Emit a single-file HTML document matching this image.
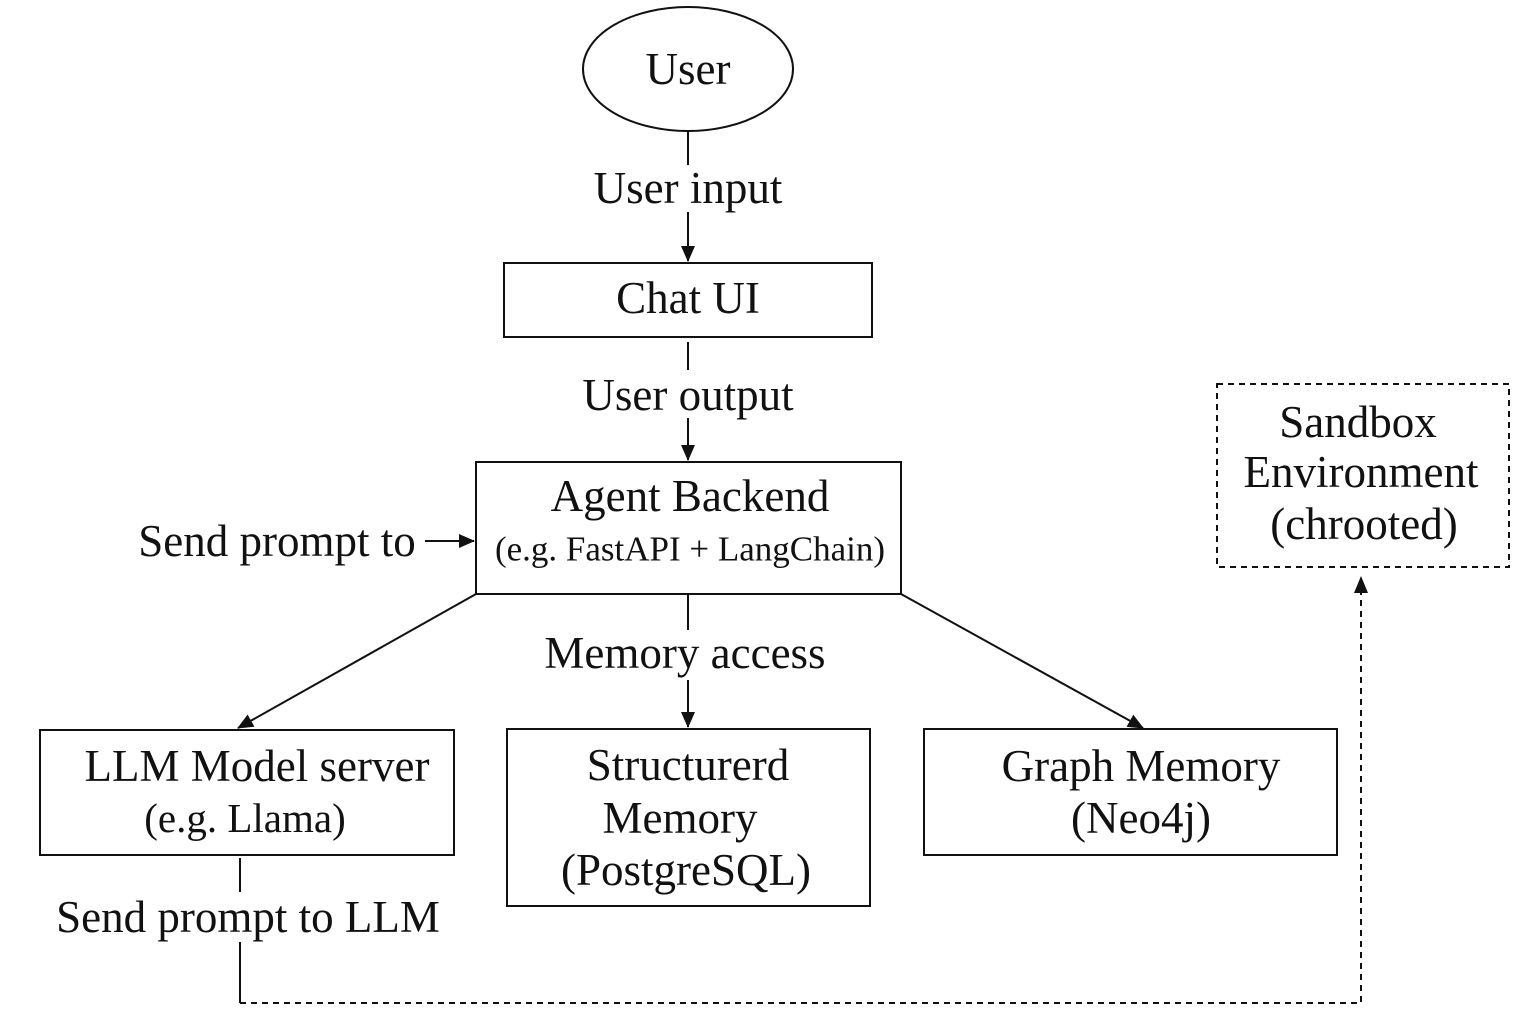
<!DOCTYPE html>
<html><head><meta charset="utf-8"><style>
html,body{margin:0;padding:0;background:#fff;}
svg{display:block;}
text{font-family:"Liberation Serif",serif;fill:#111;}
</style></head><body>
<svg width="1536" height="1024" viewBox="0 0 1536 1024" xmlns="http://www.w3.org/2000/svg">
<defs>
<marker id="a" markerWidth="16" markerHeight="14" refX="15" refY="7" orient="auto" markerUnits="userSpaceOnUse">
<path d="M0,0 L16,7 L0,14 z" fill="#111"/></marker>
</defs>
<g stroke="#111" stroke-width="2" fill="none">
<ellipse cx="688" cy="69" rx="105" ry="62"/>
<rect x="504" y="263" width="368" height="74"/>
<rect x="476" y="462" width="425" height="132"/>
<rect x="40" y="730" width="414" height="125"/>
<rect x="507" y="729" width="363" height="177"/>
<rect x="924" y="729" width="413" height="126"/>
<rect x="1217" y="384" width="292" height="183" stroke-dasharray="6,5"/>
<line x1="688" y1="131" x2="688" y2="165"/>
<line x1="688" y1="212" x2="688" y2="261" marker-end="url(#a)"/>
<line x1="688" y1="342" x2="688" y2="370"/>
<line x1="688" y1="418" x2="688" y2="460" marker-end="url(#a)"/>
<line x1="425" y1="541" x2="474" y2="541" marker-end="url(#a)"/>
<line x1="476" y1="594" x2="238" y2="728" marker-end="url(#a)"/>
<line x1="688" y1="594" x2="688" y2="630"/>
<line x1="688" y1="680" x2="688" y2="727" marker-end="url(#a)"/>
<line x1="901" y1="594" x2="1143" y2="728" marker-end="url(#a)"/>
<line x1="240" y1="858" x2="240" y2="892"/>
<line x1="240" y1="942" x2="240" y2="1003"/>
<polyline points="240,1003 1361,1003 1361,576" stroke-dasharray="6,5"/>
</g>
<path d="M1354,593 L1361,576 L1368,593 z" fill="#111"/>
<g font-size="45" text-anchor="middle" dominant-baseline="central">
<text x="688" y="69">User</text>
<text x="688" y="188">User input</text>
<text x="688" y="298">Chat UI</text>
<text x="688" y="395">User output</text>
<text x="690" y="496">Agent Backend</text>
<text x="690" y="549" font-size="35">(e.g. FastAPI + LangChain)</text>
<text x="277" y="541">Send prompt to</text>
<text x="685" y="653">Memory access</text>
<text x="257" y="766">LLM Model server</text>
<text x="245" y="818" font-size="41">(e.g. Llama)</text>
<text x="688" y="765">Structurerd</text>
<text x="680" y="818">Memory</text>
<text x="686" y="870">(PostgreSQL)</text>
<text x="1141" y="766">Graph Memory</text>
<text x="1141" y="818">(Neo4j)</text>
<text x="1358" y="422">Sandbox</text>
<text x="1361" y="472">Environment</text>
<text x="1364" y="524">(chrooted)</text>
<text x="248" y="917">Send prompt to LLM</text>
</g>
</svg>
</body></html>
